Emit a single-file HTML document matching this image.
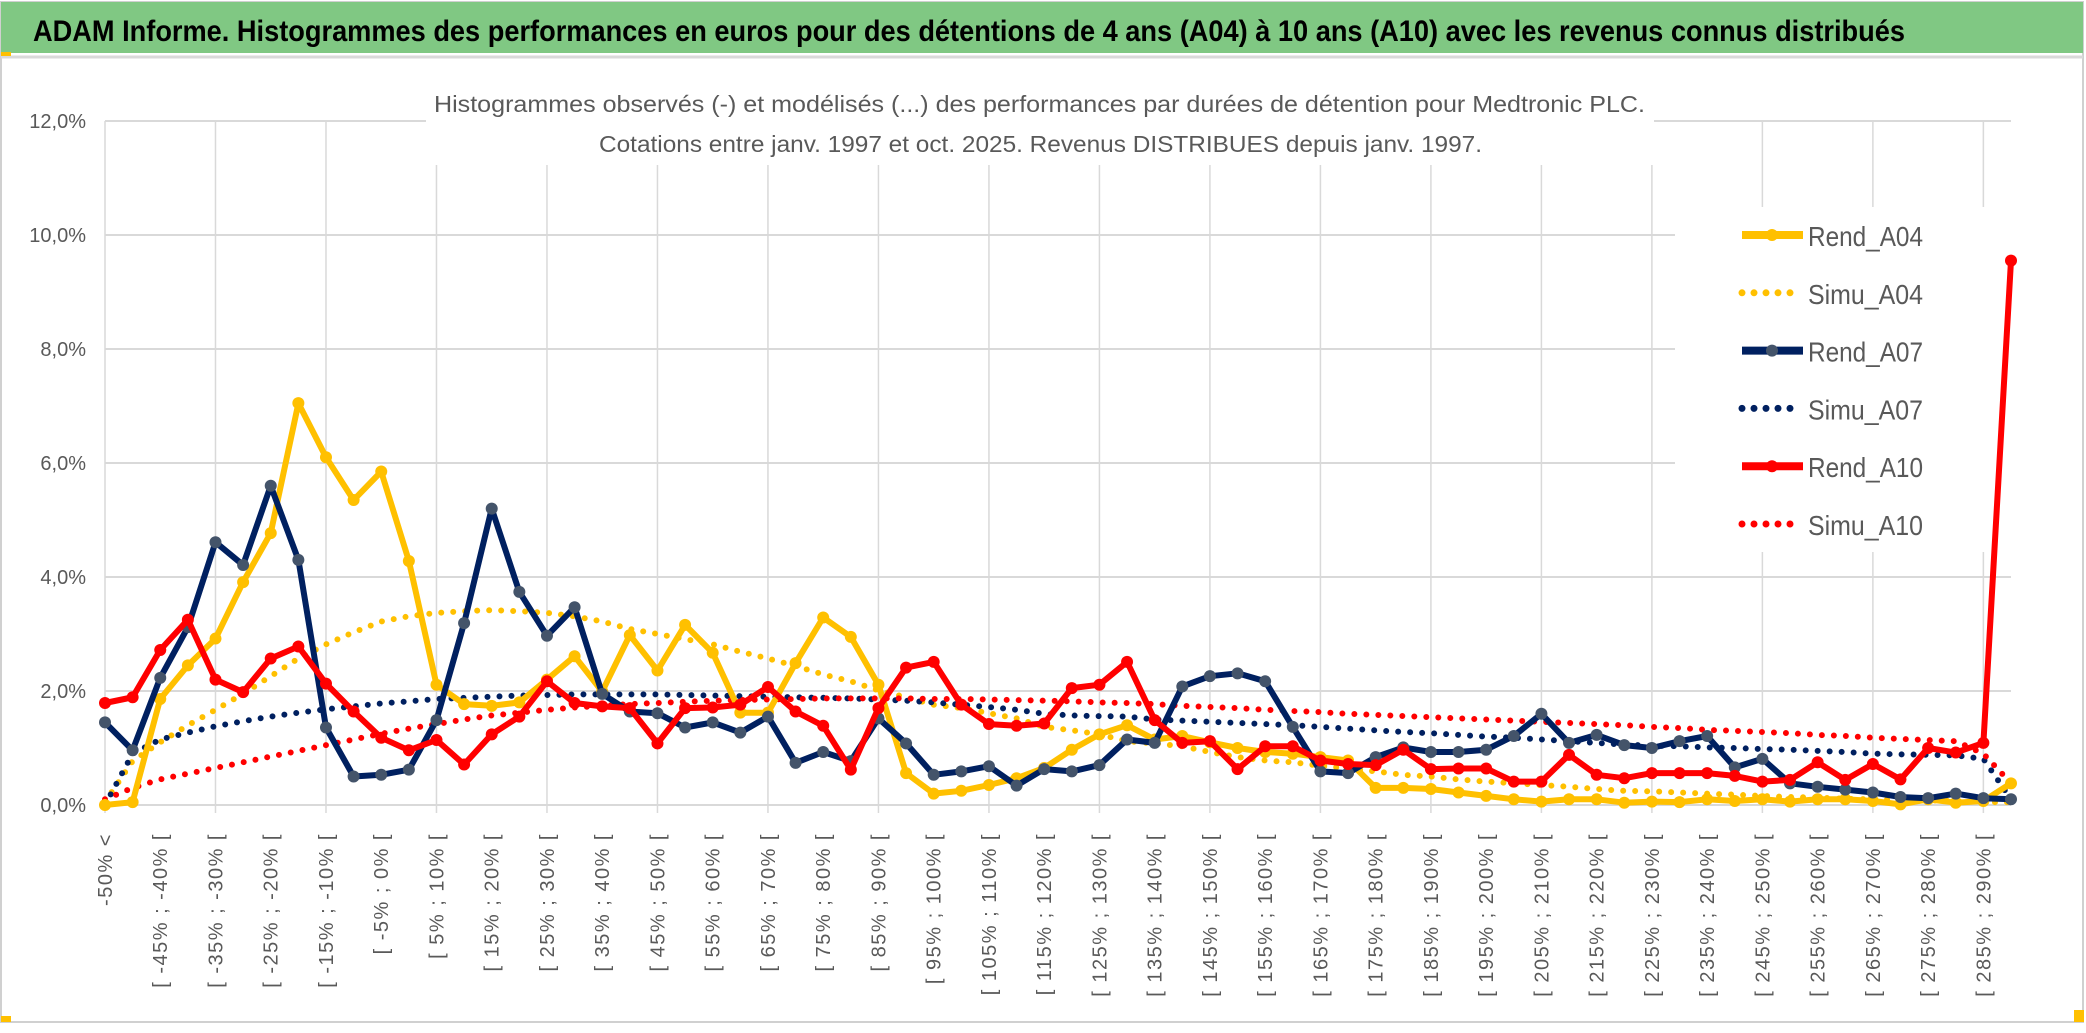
<!DOCTYPE html>
<html><head><meta charset="utf-8">
<style>
html,body{margin:0;padding:0;background:#fff;}
svg{display:block;font-family:"Liberation Sans",sans-serif;}
</style></head>
<body>
<svg id="chart" width="2086" height="1033" viewBox="0 0 2086 1033" xmlns="http://www.w3.org/2000/svg">
  <rect x="0" y="0" width="2086" height="1033" fill="#fff"/>
  <rect x="1" y="2" width="2082" height="1020" fill="none" stroke="#d0d0d0" stroke-width="2"/>
  <rect x="1" y="2" width="2082" height="51" fill="#80c883"/>
  <line x1="1" y1="57" x2="2083" y2="57" stroke="#d9d9d9" stroke-width="3"/>
  <rect x="1" y="52" width="10" height="4" fill="#ffc000"/>
  <rect x="1" y="1016" width="10" height="6" fill="#ffc000"/>
  <rect x="2074" y="1010" width="10" height="12" fill="#ffc000"/>
  <text x="33" y="41" font-size="30" font-weight="bold" fill="#000" textLength="1872" lengthAdjust="spacingAndGlyphs">ADAM Informe. Histogrammes des performances en euros pour des détentions de 4 ans (A04) à 10 ans (A10) avec les revenus connus distribués</text>
  <g id="grid"></g>
  <g id="yaxis"></g>
  <g id="xaxis"></g>
  <rect x="426" y="112" width="1228" height="53" fill="#fff"/>
  <rect x="1675" y="207" width="353" height="345" fill="#fff"/>
  <text x="434" y="112" font-size="23" fill="#595959" textLength="1211" lengthAdjust="spacingAndGlyphs">Histogrammes observés (-) et modélisés (...) des performances par durées de détention pour Medtronic PLC.</text>
  <text x="599" y="152" font-size="23" fill="#595959" textLength="883" lengthAdjust="spacingAndGlyphs">Cotations entre janv. 1997 et oct. 2025. Revenus DISTRIBUES depuis janv. 1997.</text>
  <g id="series"></g>
  <g id="legend"></g>
</svg>
<script>
const rendA04 = [0.0,0.05,1.86,2.45,2.92,3.91,4.77,7.05,6.1,5.35,5.85,4.28,2.11,1.77,1.74,1.8,2.2,2.61,1.99,2.98,2.36,3.16,2.67,1.62,1.62,2.49,3.29,2.95,2.11,0.56,0.2,0.25,0.35,0.47,0.65,0.97,1.24,1.4,1.15,1.21,1.1,1.0,0.93,0.9,0.84,0.78,0.3,0.3,0.28,0.22,0.16,0.1,0.06,0.1,0.1,0.04,0.06,0.05,0.1,0.07,0.1,0.06,0.1,0.1,0.07,0.01,0.1,0.04,0.07,0.38];
const simuA04 = [0.05,0.77,1.1,1.4,1.67,1.95,2.26,2.57,2.82,3.03,3.22,3.31,3.37,3.4,3.42,3.4,3.37,3.31,3.22,3.09,3.0,2.91,2.82,2.69,2.57,2.44,2.29,2.17,2.01,1.89,1.76,1.7,1.61,1.52,1.37,1.31,1.24,1.12,1.08,1.03,0.93,0.84,0.78,0.75,0.69,0.64,0.59,0.53,0.5,0.45,0.41,0.38,0.35,0.32,0.28,0.25,0.24,0.22,0.2,0.18,0.16,0.14,0.13,0.11,0.1,0.09,0.08,0.07,0.05,0.05];
const rendA07 = [1.45,0.96,2.23,3.12,4.61,4.21,5.6,4.3,1.36,0.5,0.53,0.62,1.49,3.19,5.2,3.74,2.97,3.47,1.95,1.64,1.61,1.36,1.45,1.27,1.55,0.74,0.93,0.77,1.52,1.08,0.53,0.59,0.68,0.34,0.63,0.59,0.7,1.15,1.09,2.08,2.26,2.31,2.17,1.37,0.59,0.56,0.84,1.01,0.93,0.93,0.97,1.21,1.6,1.09,1.23,1.05,1.0,1.12,1.21,0.66,0.81,0.38,0.32,0.27,0.22,0.14,0.12,0.2,0.12,0.1];
const simuA07 = [0.0,0.9,1.15,1.27,1.38,1.47,1.55,1.62,1.68,1.73,1.78,1.82,1.86,1.88,1.9,1.92,1.93,1.94,1.94,1.94,1.94,1.93,1.92,1.91,1.9,1.89,1.88,1.87,1.85,1.83,1.8,1.76,1.72,1.67,1.6,1.57,1.56,1.55,1.5,1.48,1.46,1.44,1.42,1.4,1.37,1.34,1.31,1.28,1.26,1.23,1.2,1.18,1.15,1.12,1.09,1.06,1.04,1.03,1.01,1.0,0.98,0.97,0.95,0.93,0.9,0.89,0.88,0.87,0.81,0.1];
const rendA10 = [1.79,1.89,2.72,3.25,2.2,1.98,2.57,2.78,2.13,1.64,1.18,0.96,1.14,0.71,1.24,1.55,2.17,1.79,1.73,1.7,1.08,1.7,1.71,1.76,2.07,1.64,1.39,0.62,1.7,2.41,2.51,1.76,1.42,1.39,1.43,2.05,2.11,2.51,1.49,1.09,1.12,0.63,1.03,1.03,0.78,0.72,0.7,0.97,0.63,0.64,0.64,0.41,0.41,0.88,0.53,0.47,0.56,0.56,0.56,0.51,0.41,0.44,0.75,0.44,0.72,0.45,1.0,0.92,1.09,9.55];
const simuA10 = [0.1,0.3,0.45,0.55,0.65,0.75,0.85,0.95,1.05,1.15,1.25,1.34,1.42,1.5,1.57,1.62,1.67,1.71,1.74,1.77,1.79,1.81,1.83,1.84,1.85,1.86,1.87,1.87,1.87,1.87,1.86,1.86,1.85,1.84,1.83,1.82,1.8,1.79,1.77,1.74,1.72,1.7,1.67,1.65,1.63,1.6,1.58,1.56,1.54,1.52,1.5,1.48,1.46,1.44,1.42,1.4,1.37,1.35,1.32,1.3,1.28,1.26,1.23,1.21,1.18,1.16,1.14,1.12,0.9,0.38];
const yTicks = [0,2,4,6,8,10,12];
const yTickLabels = ["0,0%","2,0%","4,0%","6,0%","8,0%","10,0%","12,0%"];
const categories = [];
categories.push("-50% <");
for (let k = -50; k < 295; k += 5) categories.push("[ " + k + "% ; " + (k + 5) + "% [");

const NS = "http://www.w3.org/2000/svg";
const X0 = 105, X1 = 2011, Y0 = 805, PXPCT = 57;
const n = categories.length;
function xScale(i){ return X0 + i * (X1 - X0) / (n - 1); }
function yScale(v){ return Y0 - v * PXPCT; }
function mk(tag, attrs, parent){
  const e = document.createElementNS(NS, tag);
  for (const k in attrs) e.setAttribute(k, attrs[k]);
  parent.appendChild(e);
  return e;
}
const grid = document.getElementById('grid');
const yaxis = document.getElementById('yaxis');
const xaxis = document.getElementById('xaxis');
const series = document.getElementById('series');
const legend = document.getElementById('legend');

yTicks.forEach((t, j) => {
  const l = mk('line', {x1: X0, x2: X1, y1: yScale(t), y2: yScale(t), stroke: '#d9d9d9', 'stroke-width': 2}, grid);
  
  
  const tx = mk('text', {x: 86, y: yScale(t) + 7, 'text-anchor': 'end', 'font-size': 20, fill: '#595959'}, yaxis);
  tx.textContent = yTickLabels[j];
  
  
});
for (let i = 0; i < n; i += 4) {
  const l = mk('line', {x1: xScale(i), x2: xScale(i), y1: yScale(12), y2: Y0 + 8, stroke: '#d9d9d9', 'stroke-width': 1.5}, grid);
  
  
}
for (let i = 0; i < n - 1; i += 2) {
  const x = xScale(i) + 7, y = 833;
  const tx = mk('text', {x: x, y: y, 'text-anchor': 'end', 'font-size': 20, fill: '#595959', 'letter-spacing': '1.5', transform: 'rotate(-90 ' + x + ' ' + y + ')'}, xaxis);
  tx.textContent = categories[i];
  
  
}

function pathD(arr){ return arr.map((v, i) => (i ? 'L' : 'M') + xScale(i).toFixed(1) + ' ' + yScale(v).toFixed(1)).join(' '); }
function dotted(arr, color, name){
  const p = mk('path', {d: pathD(arr), fill: 'none', stroke: color, 'stroke-width': 6, 'stroke-linecap': 'round', 'stroke-dasharray': '0 12'}, series);
  
  
}
function solid(arr, color, mcolor, name){
  const g = mk('g', {}, series);
  
  
  const p = mk('path', {d: pathD(arr), fill: 'none', stroke: color, 'stroke-width': 6, 'stroke-linejoin': 'round'}, g);
  
  
  arr.forEach((v, i) => {
    const c = mk('circle', {cx: xScale(i), cy: yScale(v), r: 6, fill: mcolor}, g);
    
    
  });
}
dotted(simuA04, '#ffc000', 'simu-a04-series');
dotted(simuA07, '#002060', 'simu-a07-series');
dotted(simuA10, '#ff0000', 'simu-a10-series');
solid(rendA04, '#ffc000', '#ffc000', 'rend-a04-series');
solid(rendA07, '#002060', '#44546a', 'rend-a07-series');
solid(rendA10, '#ff0000', '#ff0000', 'rend-a10-series');

const legendNames = ['Rend_A04','Simu_A04','Rend_A07','Simu_A07','Rend_A10','Simu_A10'];
const legendColors = ['#ffc000','#ffc000','#002060','#002060','#ff0000','#ff0000'];
const legendMarkers = ['#ffc000',null,'#44546a',null,'#ff0000',null];
legendNames.forEach((nm, j) => {
  const y = 235 + j * 57.8;
  const g = mk('g', {}, legend);
  
  
  if (legendMarkers[j]) {
    mk('line', {x1: 1742, x2: 1803, y1: y, y2: y, stroke: legendColors[j], 'stroke-width': 8}, g);
    mk('circle', {cx: 1772, cy: y, r: 6, fill: legendMarkers[j]}, g);
  } else {
    mk('line', {x1: 1742, x2: 1800, y1: y, y2: y, stroke: legendColors[j], 'stroke-width': 7, 'stroke-linecap': 'round', 'stroke-dasharray': '0 12'}, g);
  }
  const t = mk('text', {x: 1808, y: y + 11, 'font-size': 28, fill: '#595959', textLength: 115, lengthAdjust: 'spacingAndGlyphs'}, g);
  t.textContent = nm;
});
</script>
</body></html>
